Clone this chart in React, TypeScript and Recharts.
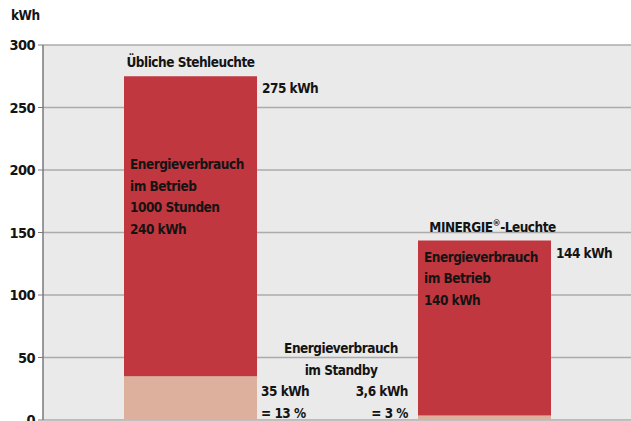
import { Bar, BarChart, CartesianGrid, LabelList, XAxis, YAxis } from 'recharts';

const LAMPS = ['Übliche Stehleuchte', 'MINERGIE®-Leuchte'];
const STANDBY = [35, 3.6];
const BETRIEB = [240, 140];
const TOTAL_LABELS = ['275 kWh', '144 kWh'];
const BETRIEB_LINES = [
  ['Energieverbrauch', 'im Betrieb', '1000 Stunden', '240 kWh'],
  ['Energieverbrauch', 'im Betrieb', '140 kWh'],
];
const STANDBY_LINES = [
  ['35 kWh', '= 13 %'],
  ['3,6 kWh', '= 3 %'],
];
const STANDBY_TITLE = ['Energieverbrauch', 'im Standby'];
const Y_TICKS = [0, 50, 100, 150, 200, 250, 300];

const data = LAMPS.map((lamp, i) => ({ lamp, standby: STANDBY[i], betrieb: BETRIEB[i] }));

const FONT = "'DejaVu Sans Condensed', 'DejaVu Sans', sans-serif";
const INK = '#141414';
const RED = '#C1373F';
const SAND = '#DCB09C';

const txt = {
  fontFamily: FONT,
  fontWeight: 700,
  fontSize: 13.5,
  letterSpacing: -0.5,
  fill: INK,
} as const;

function LampName({ name, x, y }: { name: string; x: number; y: number }) {
  const parts = name.split('®');
  return (
    <text x={x} y={y} textAnchor="middle" {...txt}>
      {parts[0]}
      {parts.length > 1 && (
        <>
          <tspan fontSize={9} dy={-6}>®</tspan>
          <tspan dy={6}>{parts[1]}</tspan>
        </>
      )}
    </text>
  );
}

const betriebLabel = (props: any) => {
  const { x, y, width, index } = props;
  const lines = BETRIEB_LINES[index];
  const first = index === 0 ? y + 93 : y + 21;
  return (
    <g>
      <LampName name={LAMPS[index]} x={x + width / 2 + (index === 1 ? 8 : 0)} y={y - 9} />
      <text x={x + width + 5} y={y + 17} {...txt}>
        {TOTAL_LABELS[index]}
      </text>
      {lines.map((t, k) => (
        <text key={k} x={x + 6} y={first + k * 21.5} {...txt}>
          {t}
        </text>
      ))}
    </g>
  );
};

const standbyLabel = (props: any) => {
  const { x, y, width, height, index } = props;
  const bottom = y + height;
  const lines = STANDBY_LINES[index];
  const left = index === 0;
  return (
    <g>
      {lines.map((t, k) => (
        <text
          key={k}
          x={left ? x + width + 4 : x - 10}
          y={bottom - 24 + k * 22}
          textAnchor={left ? 'start' : 'end'}
          {...txt}
        >
          {t}
        </text>
      ))}
      {!left &&
        STANDBY_TITLE.map((t, k) => (
          <text key={'t' + k} x={x - 77} y={bottom - 67 + k * 22} textAnchor="middle" {...txt}>
            {t}
          </text>
        ))}
    </g>
  );
};

export default function App() {
  return (
    <div style={{ position: 'absolute', left: 0, top: 0, width: 631, height: 421, background: '#fff', overflow: 'hidden' }}>
      <div
        style={{
          position: 'absolute',
          left: 11,
          top: 7,
          fontFamily: FONT,
          fontWeight: 700,
          fontSize: 13.5,
          letterSpacing: -0.5,
          color: INK,
        }}
      >
        kWh
      </div>
      <BarChart width={631} height={421} data={data} margin={{ top: 45, right: 0, bottom: 1, left: 0 }} barSize={133}>
        <CartesianGrid vertical={false} fill="#EAEAEA" stroke="#ABABAB" strokeWidth={1.5} />
        <XAxis dataKey="lamp" height={0} tick={false} tickLine={false} axisLine={{ stroke: '#7A7A7A', strokeWidth: 1.5 }} />
        <YAxis
          width={43}
          domain={[0, 300]}
          ticks={Y_TICKS}
          interval={0}
          axisLine={{ stroke: '#7A7A7A', strokeWidth: 1.5 }}
          tickLine={{ stroke: '#7A7A7A' }}
          tickSize={5}
          tickMargin={3}
          tick={{ fontFamily: FONT, fontWeight: 700, fontSize: 14.5, letterSpacing: -0.6, fill: INK }}
        />
        <Bar dataKey="standby" stackId="a" fill={SAND} isAnimationActive={false}>
          <LabelList dataKey="standby" content={standbyLabel} />
        </Bar>
        <Bar dataKey="betrieb" stackId="a" fill={RED} isAnimationActive={false}>
          <LabelList dataKey="betrieb" content={betriebLabel} />
        </Bar>
      </BarChart>
    </div>
  );
}
